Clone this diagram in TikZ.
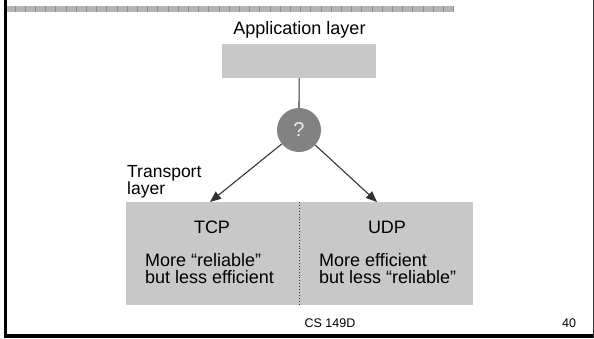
\documentclass[tikz,border=0pt]{standalone}
\usepackage{fontspec}
\setmainfont{Liberation Sans}
\usetikzlibrary{arrows.meta}
\definecolor{boxgray}{HTML}{C8C8C8}
\definecolor{knobgray}{HTML}{828282}
\definecolor{inkgray}{HTML}{333333}
\definecolor{bargray}{HTML}{B4B4B4}
\definecolor{tickgray}{HTML}{8C8C8C}
\tikzset{
  layerbox/.style={draw=none, fill=boxgray, inner sep=0pt, anchor=north west},
  bodytext/.style={inner sep=0pt, font=\fontsize{18}{20}\selectfont, text=black},
  foottext/.style={inner sep=0pt, font=\fontsize{12.5}{14}\selectfont, text=black},
  link/.style={draw=inkgray, line width=1.1pt},
  arrowlink/.style={link, -{Triangle[length=11pt,width=9pt]}},
}
\begin{document}
\begin{tikzpicture}[x=1pt,y=-1pt]
\useasboundingbox (0,0) rectangle (594,338);
\fill[white] (0,0) rectangle (594,338);

% slide frame
\draw[black, line width=3pt] (5.5,0) -- (5.5,338);
\draw[black, line width=4pt] (4,336) -- (594,336);
\draw[inkgray, line width=0.8pt] (593,0) -- (593,338);

% title rule
\fill[bargray] (7,6) rectangle (454,12);
\foreach \k in {0,...,43} {
  \draw[tickgray, line width=0.8pt] ({15+10.2*\k},6) -- ({15+10.2*\k},12);
}

% application layer
\node[bodytext, anchor=base] (apptitle) at (299.5,34.5) {Application layer};
\node[layerbox, minimum width=154pt, minimum height=34pt] (app) at (222,44) {};

% selector knob
\node[circle, fill=knobgray, minimum size=44pt, inner sep=0pt,
      text=white!92!black, font=\fontsize{20}{22}\selectfont] (q) at (299,130) {?};
\draw[link] (app.south) -- (q.north);

% transport layer
\node[bodytext, anchor=base west, font=\fontsize{17.5}{19}\selectfont] (tr1) at (127,177) {Transport};
\node[bodytext, anchor=base west, font=\fontsize{17.5}{19}\selectfont] (tr2) at (127,194) {layer};

\node[layerbox, minimum width=173pt, minimum height=103pt] (tcpbox) at (126,202) {};
\node[layerbox, minimum width=174pt, minimum height=103pt] (udpbox) at (299,202) {};
\draw[inkgray, line width=0.9pt, dotted] (tcpbox.north east) -- (tcpbox.south east);

\coordinate (tcpin) at (210,202);
\coordinate (udpin) at (377,202);
\draw[arrowlink] (q) -- (tcpin);
\draw[arrowlink] (q) -- (udpin);

\node[bodytext, anchor=base] (tcp) at (212,233) {TCP};
\node[bodytext, anchor=base west] (tcpa) at (145,266) {More “reliable”};
\node[bodytext, anchor=base west] (tcpb) at (145,283) {but less efficient};

\node[bodytext, anchor=base] (udp) at (387,233) {UDP};
\node[bodytext, anchor=base west] (udpa) at (319,266) {More efficient};
\node[bodytext, anchor=base west] (udpb) at (319,283) {but less “reliable”};

% footer
\node[foottext, anchor=base] (course) at (330,327) {CS 149D};
\node[foottext, anchor=base] (page) at (569,327) {40};
\end{tikzpicture}
\end{document}
